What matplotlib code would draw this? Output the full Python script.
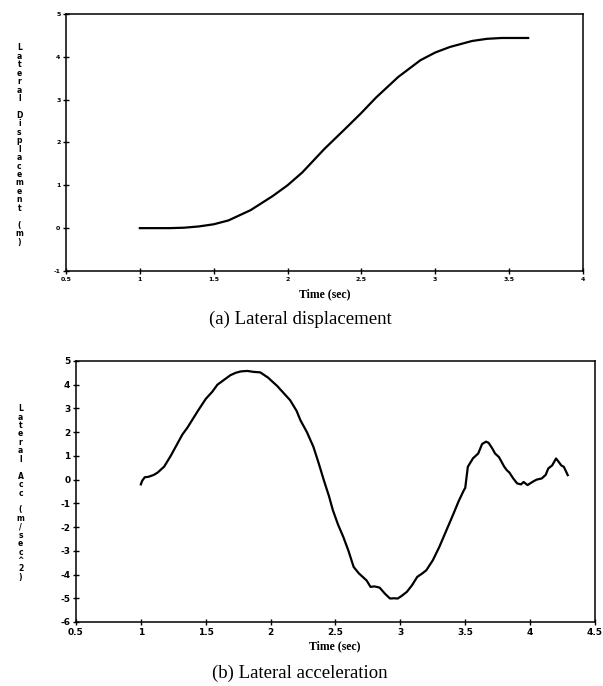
import matplotlib.pyplot as plt

plt.rcParams['axes.unicode_minus'] = False

# (a) lateral displacement
t_disp = [1.0, 1.1, 1.2, 1.3, 1.4, 1.5, 1.6, 1.75, 1.9, 2.0, 2.1, 2.25, 2.4, 2.5,
          2.6, 2.75, 2.9, 3.0, 3.1, 3.25, 3.35, 3.45, 3.55, 3.63]
disp = [0.0, 0.0, 0.0, 0.01, 0.04, 0.09, 0.18, 0.42, 0.75, 1.0, 1.3, 1.85, 2.35, 2.69,
        3.05, 3.53, 3.92, 4.1, 4.23, 4.37, 4.42, 4.44, 4.44, 4.44]

# (b) lateral acceleration
t_acc = [1.0, 1.01, 1.03, 1.06, 1.1, 1.13, 1.18, 1.23, 1.28, 1.32, 1.36, 1.44, 1.5, 1.55,
         1.59, 1.64, 1.69, 1.73, 1.77, 1.82, 1.87, 1.92, 1.98, 2.05, 2.1, 2.15, 2.2, 2.23,
         2.28, 2.33, 2.37, 2.41, 2.45, 2.48, 2.52, 2.56, 2.6, 2.64, 2.68, 2.71, 2.74, 2.77,
         2.8, 2.84, 2.88, 2.92, 2.95, 2.98, 3.01, 3.05, 3.09, 3.13, 3.17, 3.2, 3.25, 3.3,
         3.35, 3.41, 3.45, 3.49, 3.5, 3.52, 3.56, 3.6, 3.63, 3.66, 3.68, 3.71, 3.73, 3.76,
         3.78, 3.8, 3.82, 3.84, 3.87, 3.9, 3.93, 3.95, 3.98, 4.02, 4.05, 4.09, 4.12, 4.14,
         4.17, 4.2, 4.22, 4.24, 4.26, 4.29]
acc = [-0.2, -0.05, 0.1, 0.12, 0.2, 0.3, 0.55, 1.0, 1.5, 1.9, 2.2, 2.9, 3.4, 3.7,
       4.0, 4.2, 4.4, 4.5, 4.56, 4.58, 4.54, 4.52, 4.3, 3.95, 3.65, 3.35, 2.9, 2.5,
       2.0, 1.38, 0.7, -0.02, -0.7, -1.29, -1.9, -2.41, -3.0, -3.68, -3.95, -4.1, -4.25, -4.52,
       -4.5, -4.55, -4.8, -5.01, -5.0, -5.01, -4.9, -4.73, -4.45, -4.1, -3.95, -3.82, -3.4, -2.84,
       -2.2, -1.43, -0.9, -0.44, -0.35, 0.54, 0.9, 1.1, 1.5, 1.6, 1.55, 1.3, 1.1, 0.95,
       0.75, 0.55, 0.4, 0.3, 0.05, -0.16, -0.2, -0.1, -0.23, -0.09, 0.0, 0.05, 0.2, 0.47,
       0.6, 0.89, 0.75, 0.6, 0.54, 0.19]

tick_style = dict(direction='inout', length=4, width=1, colors='black')

fig = plt.figure(figsize=(6.03, 6.86), dpi=100)

ax1 = fig.add_axes([0.1095, 0.605, 0.857, 0.3746])
ax1.plot(t_disp, disp, color='black', lw=1.6)
ax1.set_xlim(0.5, 4)
ax1.set_ylim(-1, 5)
ax1.set_xticks([0.5, 1, 1.5, 2, 2.5, 3, 3.5, 4])
ax1.set_xticklabels(['0.5', '1', '1.5', '2', '2.5', '3', '3.5', '4'])
ax1.set_yticks([-1, 0, 1, 2, 3, 4, 5])
ax1.tick_params(labelsize=4.5, pad=2, **tick_style)
for lab in ax1.get_xticklabels() + ax1.get_yticklabels():
    lab.set_fontweight('bold')

ax2 = fig.add_axes([0.126, 0.0933, 0.8607, 0.3805])
ax2.plot(t_acc, acc, color='black', lw=1.6)
ax2.set_xlim(0.5, 4.5)
ax2.set_ylim(-6, 5)
ax2.set_xticks([0.5, 1, 1.5, 2, 2.5, 3, 3.5, 4, 4.5])
ax2.set_xticklabels(['0.5', '1', '1.5', '2', '2.5', '3', '3.5', '4', '4.5'])
ax2.set_yticks(range(-6, 6))
ax2.tick_params(labelsize=6.5, pad=2, **tick_style)
for lab in ax2.get_xticklabels() + ax2.get_yticklabels():
    lab.set_fontweight('bold')

for ax in (ax1, ax2):
    for s in ax.spines.values():
        s.set_linewidth(1.1)

# vertical stacked y labels
fig.text(0.032, 1 - 145 / 686, '\n'.join('Lateral Displacement (m)'), ha='center', va='center',
         fontsize=5.5, fontweight='bold', linespacing=0.92)
fig.text(0.034, 1 - 493 / 686, '\n'.join('Lateral Acc (m/sec^2)'), ha='center', va='center',
         fontsize=5.5, fontweight='bold', linespacing=0.92)

# x labels and captions
fig.text(325 / 603, 1 - 294 / 686, 'Time (sec)', ha='center', va='center',
         family='Liberation Serif', fontweight='bold', fontsize=8.5)
fig.text(300 / 603, 1 - 319 / 686, '(a) Lateral displacement', ha='center', va='center',
         family='Liberation Serif', fontsize=13.5)
fig.text(335 / 603, 1 - 646 / 686, 'Time (sec)', ha='center', va='center',
         family='Liberation Serif', fontweight='bold', fontsize=8.5)
fig.text(300 / 603, 1 - 673 / 686, '(b) Lateral acceleration', ha='center', va='center',
         family='Liberation Serif', fontsize=13.5)

plt.savefig('out.png', dpi=100)
